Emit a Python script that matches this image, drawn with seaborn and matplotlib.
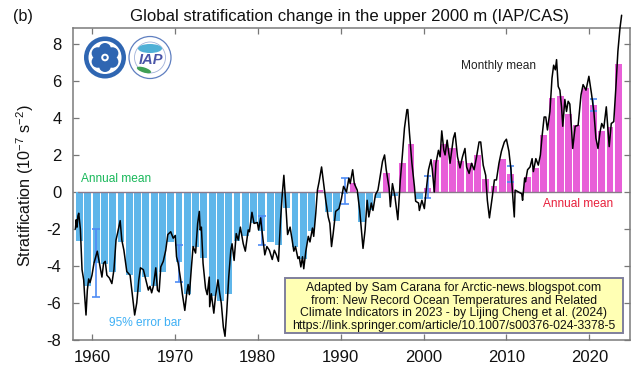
import numpy as np
import pandas as pd
import matplotlib
matplotlib.use("Agg")
import matplotlib.pyplot as plt
from matplotlib.patches import Circle, Ellipse, Rectangle
import seaborn as sns

# Annual mean stratification anomaly, 1958-2023
annual_years = list(range(1958, 2024))
annual_values = [
    -2.65, -5.1, -3.85, -3.9, -4.3, -2.7, -4.5, -5.4, -4.6, -5.1,
    -4.3, -2.7, -3.8, -5.5, -3.0, -3.55, -5.6, -5.9, -5.5, -2.65,
    -2.4, -1.7, -2.1, -2.7, -2.85, -0.85, -3.0, -3.6, -2.1, 0.1,
    -1.1, -1.55, -0.1, 0.5, -1.6, -1.0, -0.3, 1.05, -0.2, 1.55,
    2.6, -0.4, 0.2, 1.75, 2.6, 2.35, 1.65, 1.55, 2.0, 0.7,
    0.3, 1.8, 0.95, -0.05, 0.8, 1.3, 3.1, 5.1, 5.2, 4.2,
    3.6, 5.6, 4.7, 3.3, 3.5, 6.9,
]

# Monthly mean curve, vertices
monthly_time = [
    1958.0, 1958.1, 1958.2, 1958.3, 1958.4, 1958.6, 1958.8, 1959.0, 1959.1, 1959.28,
    1959.44, 1959.6, 1959.76, 1960.0, 1960.24, 1960.64, 1960.9, 1961.05, 1961.2, 1961.4,
    1961.6, 1961.8, 1962.1, 1962.4, 1962.65, 1962.9, 1963.1, 1963.4, 1963.6, 1963.85,
    1964.2, 1964.6, 1964.85, 1965.15, 1965.4, 1965.65, 1965.85, 1966.2, 1966.5, 1966.8,
    1967.0, 1967.2, 1967.4, 1967.7, 1967.9, 1968.1, 1968.3, 1968.6, 1968.9, 1969.15,
    1969.5, 1969.8, 1970.05, 1970.2, 1970.4, 1970.7, 1970.9, 1971.2, 1971.45, 1971.6,
    1971.75, 1972.0, 1972.2, 1972.5, 1972.75, 1972.95, 1973.05, 1973.2, 1973.4, 1973.7,
    1973.9, 1974.15, 1974.2, 1974.4, 1974.7, 1974.9, 1975.2, 1975.4, 1975.6, 1975.85,
    1976.05, 1976.25, 1976.5, 1976.75, 1976.9, 1977.15, 1977.4, 1977.65, 1977.9, 1978.25,
    1978.5, 1978.85, 1979.0, 1979.3, 1979.55, 1979.95, 1980.1, 1980.35, 1980.5, 1980.85,
    1981.1, 1981.4, 1981.75, 1982.0, 1982.25, 1982.5, 1982.75, 1982.97, 1983.15, 1983.35,
    1983.6, 1983.9, 1984.15, 1984.35, 1984.55, 1984.85, 1985.0, 1985.2, 1985.4, 1985.55,
    1985.8, 1986.1, 1986.3, 1986.6, 1986.75, 1987.0, 1987.2, 1987.4, 1987.7, 1987.95,
    1988.2, 1988.5, 1988.7, 1988.9, 1989.1, 1989.4, 1989.8, 1990.1, 1990.35, 1990.7,
    1991.0, 1991.15, 1991.45, 1991.65, 1992.0, 1992.3, 1992.7, 1992.95, 1993.2, 1993.4,
    1993.7, 1993.9, 1994.2, 1994.5, 1994.7, 1995.05, 1995.3, 1995.5, 1995.85, 1996.0,
    1996.25, 1996.55, 1996.9, 1997.2, 1997.45, 1997.7, 1998.0, 1998.1, 1998.3, 1998.6,
    1998.9, 1999.05, 1999.4, 1999.5, 1999.8, 2000.1, 2000.3, 2000.6, 2000.9, 2001.05,
    2001.3, 2001.5, 2001.8, 2002.0, 2002.2, 2002.45, 2002.6, 2002.85, 2003.2, 2003.6,
    2003.8, 2004.1, 2004.4, 2004.7, 2005.0, 2005.2, 2005.5, 2005.8, 2006.1, 2006.4,
    2006.7, 2006.9, 2007.2, 2007.5, 2007.7, 2007.95, 2008.3, 2008.55, 2008.8, 2009.1,
    2009.4, 2009.75, 2010.0, 2010.3, 2010.55, 2010.8, 2010.95, 2011.05, 2011.45, 2011.85,
    2011.95, 2012.2, 2012.3, 2012.55, 2012.85, 2013.1, 2013.25, 2013.55, 2013.85, 2014.1,
    2014.3, 2014.55, 2014.75, 2014.95, 2015.25, 2015.5, 2015.7, 2015.9, 2016.05, 2016.25,
    2016.45, 2016.65, 2016.8, 2017.05, 2017.25, 2017.45, 2017.65, 2017.85, 2018.0, 2018.3,
    2018.65, 2019.0, 2019.25, 2019.6, 2019.95, 2020.25, 2020.55, 2020.8, 2021.05, 2021.3,
    2021.5, 2021.75, 2022.05, 2022.4, 2022.65, 2022.95, 2023.2, 2023.45, 2023.7, 2023.9,
]
monthly_values = [
    -2.0, -1.5, -1.9, -1.3, -1.15, -2.0, -4.2, -4.75, -5.5, -6.65,
    -5.3, -4.7, -4.9, -4.5, -3.85, -3.2, -3.85, -4.2, -4.6, -3.85,
    -3.75, -4.5, -4.65, -4.95, -4.2, -2.6, -2.2, -1.55, -2.6, -3.15,
    -4.3, -4.5, -5.5, -6.65, -6.0, -4.75, -4.1, -4.2, -4.75, -5.3,
    -5.1, -5.45, -5.1, -4.1, -5.3, -5.4, -4.05, -3.75, -3.15, -2.3,
    -2.15, -2.5, -2.35, -3.5, -3.85, -4.75, -5.5, -6.4, -5.4, -5.0,
    -5.55, -4.05, -2.95, -3.3, -1.7, -1.05, -2.05, -1.9, -3.85, -5.2,
    -5.55, -4.6, -6.2, -5.5, -6.55, -5.65, -4.75, -5.45, -6.0, -7.3,
    -7.8, -6.55, -4.6, -3.15, -2.8, -3.7, -2.25, -2.6, -1.9, -2.8,
    -3.2, -2.05, -2.15, -1.1, -1.7, -1.65, -2.05, -1.4, -2.05, -3.4,
    -2.95, -3.15, -3.65, -3.15, -3.4, -3.75, -1.5, -0.05, 0.9, -0.45,
    -2.3, -1.9, -2.6, -3.2, -2.95, -3.6, -3.5, -4.05, -3.5, -4.15,
    -3.2, -2.4, -2.7, -1.95, -2.4, -1.15, 0.1, 0.55, 1.35, 0.45,
    -0.45, -1.35, -1.7, -2.95, -2.25, -1.05, -0.9, -0.35, 0.3, 0.0,
    0.75, 0.45, 1.2, 0.45, 0.1, -1.0, -3.05, -2.05, -0.45, -1.35,
    -0.6, -1.0, -0.15, 0.1, 0.65, 1.65, 2.0, 1.2, 0.2, -0.8,
    0.45, -0.25, -1.5, 0.65, 2.0, 3.45, 4.45, 4.45, 3.2, 1.55,
    0.3, -0.5, -0.6, -1.0, -0.45, -0.9, 0.0, 1.2, 1.75, 1.25,
    0.0, 1.55, 2.25, 1.9, 3.3, 2.25, 2.0, 2.8, 1.55, 2.9,
    3.2, 1.9, 1.3, 1.9, 2.35, 1.35, 1.0, 1.55, 1.2, 1.9,
    2.7, 2.7, 1.45, 0.9, -0.45, -1.4, -0.25, 0.65, 0.65, 1.55,
    2.2, 2.7, 2.85, 2.2, 1.2, -0.45, -1.35, 0.1, 0.0, -0.1,
    -0.45, 0.75, 0.55, 1.2, 1.35, 1.8, 1.1, 1.8, 1.45, 2.0,
    3.0, 4.05, 4.05, 3.35, 4.35, 6.15, 6.85, 6.6, 7.15, 5.7,
    5.5, 4.6, 3.55, 5.0, 4.35, 4.9, 4.75, 3.45, 2.35, 3.55,
    3.6, 5.25, 5.8, 5.5, 6.25, 5.35, 4.35, 2.9, 2.35, 3.25,
    3.7, 3.45, 4.6, 2.45, 3.7, 3.8, 5.6, 7.6, 8.85, 9.55,
]

# 95% error bars
err_years = [1960, 1970, 1980, 1990, 2000, 2010, 2020]
err_low = [-5.65, -4.85, -2.85, -0.65, -0.35, 0.55, 4.4]
err_high = [-2.0, -2.85, -1.3, 0.75, 0.85, 1.4, 5.0]

x_ticks = [1960, 1970, 1980, 1990, 2000, 2010, 2020]
y_ticks = [-8, -6, -4, -2, 0, 2, 4, 6, 8]

title = "Global stratification change in the upper 2000 m (IAP/CAS)"
credit = ("Adapted by Sam Carana for Arctic-news.blogspot.com\n"
          "from: New Record Ocean Temperatures and Related\n"
          "Climate Indicators in 2023 - by Lijing Cheng et al. (2024)\n"
          "https://link.springer.com/article/10.1007/s00376-024-3378-5")

sns.set_theme(style="ticks")
plt.rcParams["font.family"] = ["Liberation Sans", "DejaVu Sans"]
plt.rcParams["axes.unicode_minus"] = False
plt.rcParams["mathtext.default"] = "regular"

W, H = 640, 367
fig = plt.figure(figsize=(W / 100, H / 100), dpi=100)
ax = fig.add_axes([72.5 / W, 1 - 340 / H, 557 / W, 312 / H])

annual = pd.DataFrame({"year": np.array(annual_years) + 0.5, "value": annual_values})
annual["sign"] = np.where(annual["value"] >= 0, "pos", "neg")
sns.barplot(data=annual, x="year", y="value", hue="sign", native_scale=True,
            palette={"pos": "#e85fd8", "neg": "#5fb6ea"}, saturation=1, width=0.82, dodge=False,
            errorbar=None, legend=False, linewidth=0, ax=ax, zorder=2)

ax.axhline(0, color="#8a7a8a", lw=1.0, zorder=3, xmin=0.01, xmax=0.985)

sns.lineplot(x=monthly_time, y=monthly_values, estimator=None, sort=False,
             color="black", lw=1.1, ax=ax, zorder=5, clip_on=False)

ecol = "#4f8cf5"
ex = np.array(err_years) + 0.5
ax.vlines(ex, err_low, err_high, color=ecol, lw=1.2, zorder=4)
ax.hlines(err_low, ex - 0.45, ex + 0.45, color=ecol, lw=1.2, zorder=4)
ax.hlines(err_high, ex - 0.45, ex + 0.45, color=ecol, lw=1.2, zorder=4)

ax.set_xlim(1957.65, 2024.85)
ax.set_ylim(-8, 8.86)
ax.set_xticks(x_ticks)
ax.set_xticklabels([str(v) for v in x_ticks])
ax.set_yticks(y_ticks)
ax.set_yticklabels([str(v) for v in y_ticks])
ax.tick_params(axis="both", direction="in", length=4, width=0.9, color="#777777",
               top=True, right=True, labelsize=12, labelcolor="#111111", pad=8)
ax.tick_params(axis="x", pad=7)
for s in ax.spines.values():
    s.set_visible(True)
    s.set_color("#7a7a7a")
    s.set_linewidth(1.1)
ax.set_xlabel("")
ax.set_ylabel("")


def px(x, y, text, **kw):
    return fig.text(x / W, 1 - y / H, text, **kw)


px(25, 186, "Stratification (10$^{-7}$ s$^{-2}$)", rotation=90, ha="center", va="center",
   fontsize=11.6, color="#111111")
px(349, 16, title, ha="center", va="center", fontsize=12.1, color="#111111")
px(13, 17, "(b)", ha="left", va="center", fontsize=11.6, color="#111111")
px(81, 179, "Annual mean", ha="left", va="center", fontsize=8.6, color="#18b85a")
px(109, 323, "95% error bar", ha="left", va="center", fontsize=8.6, color="#3fb0f5")
px(543, 204, "Annual mean", ha="left", va="center", fontsize=8.6, color="#e8203c")
px(461, 66, "Monthly mean", ha="left", va="center", fontsize=8.6, color="#222222")

# credit box
fig.add_artist(Rectangle((285 / W, 1 - 333 / H), 338 / W, 55 / H, transform=fig.transFigure,
                         facecolor="#ffffb4", edgecolor="#7f7f9c", lw=1.4, zorder=6))
px(454, 307, credit, ha="center", va="center", fontsize=8.85, color="#111111",
   linespacing=1.06, zorder=7)

# logos, drawn in pixel coordinates on an overlay axes
ov = fig.add_axes([0, 0, 1, 1], facecolor="none", zorder=8)
ov.set_xlim(0, W)
ov.set_ylim(H, 0)
ov.axis("off")
blue = "#2f66b2"
ov.add_patch(Circle((105, 57.5), 21, fc=blue, ec="none"))
ov.add_patch(Circle((105, 57.5), 16.5, fc="white", ec="none"))
for a in np.deg2rad(np.arange(90, 450, 60)):
    ov.add_patch(Circle((105 + 8.5 * np.cos(a), 57.5 - 8.5 * np.sin(a)), 6, fc=blue, ec="none"))
ov.add_patch(Circle((105, 57.5), 3.8, fc="white", ec="none"))
ov.add_patch(Circle((105, 57.5), 1.8, fc=blue, ec="none"))
ov.add_patch(Circle((150, 57.5), 21, fc="white", ec="#5f7fc0", lw=0.9))
ov.add_patch(Circle((150, 57.5), 15.5, fc="white", ec="#9fb0d8", lw=0.6))
ov.add_patch(Ellipse((150, 48.5), 24, 9, fc="#4fb0d6", ec="none"))
ov.add_patch(Ellipse((144, 70), 15, 5, angle=18, fc="#3f9f55", ec="none"))
ov.text(151, 60, "IAP", ha="center", va="center", fontsize=10.5, fontweight="bold",
        fontstyle="italic", color="#4a55a8")

fig.savefig("out.png", dpi=100)
